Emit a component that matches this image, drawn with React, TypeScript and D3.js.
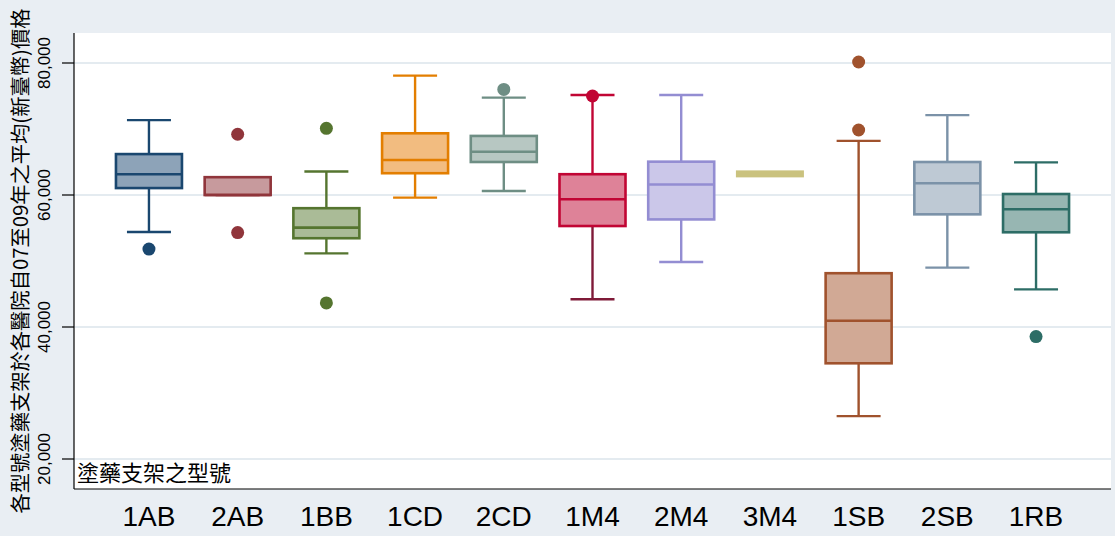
import React from 'react';
import * as d3 from 'd3';

// stent type -> price distribution (NTD)
const categories = ['1AB', '2AB', '1BB', '1CD', '2CD', '1M4', '2M4', '3M4', '1SB', '2SB', '1RB'];
const lowerWhisker = [54400, 60000, 51150, 59600, 60600, 44200, 49850, 63200, 26500, 49000, 45700];
const q1 = [61050, 60000, 53450, 63300, 65000, 55300, 56300, 63200, 34500, 57070, 54350];
const median = [63150, 60000, 55050, 65300, 66550, 59350, 61600, 63200, 40950, 61770, 57830];
const q3 = [66200, 62700, 58000, 69350, 68950, 63150, 65050, 63200, 48150, 65000, 60150];
const upperWhisker = [71350, 62700, 63550, 78080, 74750, 75150, 75150, 63200, 68200, 72100, 64950];
const outliers = [[51800], [69200, 54300], [70100, 43650], [], [76000], [75000], [], [], [80150, 69850], [], [38550]];

const strokes = ['#1a476f', '#90353b', '#55752f', '#e37e00', '#6e8e84', '#c10534', '#938dd2', '#cac27e', '#a0522d', '#7b92a8', '#2d6d66'];
const fills = ['#8da3b8', '#c79a9d', '#aabb97', '#f2bc80', '#b7c7c2', '#de8298', '#cbc7e9', '#cac27e', '#d1a995', '#bec9d4', '#97b6b2'];
const lowerStrokes = ['#1a476f', '#90353b', '#55752f', '#e37e00', '#6e8e84', '#7f1a38', '#938dd2', '#cac27e', '#a0522d', '#7b92a8', '#2d6d66'];

const yTicks = [20000, 40000, 60000, 80000];

const W = 1115;
const H = 536;
const plot = { left: 74, right: 1111, top: 33, bottom: 489 };
const bg = '#e9eef3';
const grid = '#e4ebf0';

export default function App() {
  const y = d3.scaleLinear().domain([15455, 84545]).range([plot.bottom, plot.top]);
  const x = d3.scalePoint<string>().domain(categories).range([plot.left, plot.right]).padding(0.845);
  const boxW = 66;
  const capW = 44;
  const fmt = d3.format(',');

  return (
    <svg width={W} height={H} style={{ position: 'absolute', left: 0, top: 0, display: 'block' }}>
      <rect width={W} height={H} fill={bg} />
      <rect x={plot.left} y={plot.top} width={plot.right - plot.left} height={plot.bottom - plot.top} fill="#fff" />

      {yTicks.map((t) => (
        <g key={t}>
          <line x1={plot.left} x2={plot.right} y1={y(t)} y2={y(t)} stroke={grid} strokeWidth={2} />
          <line x1={62} x2={plot.left} y1={y(t)} y2={y(t)} stroke="#000" strokeWidth={1.2} />
          <text
            transform={`translate(50,${y(t)}) rotate(-90)`}
            textAnchor="middle"
            fontFamily="'Liberation Sans', Arial, sans-serif"
            fontSize={17}
            fill="#000"
          >
            {fmt(t)}
          </text>
        </g>
      ))}

      {categories.map((c, i) => {
        const cx = x(c)!;
        const s = strokes[i];
        const flat = q1[i] === q3[i];
        return (
          <g key={c}>
            {!flat && (
              <>
                <line x1={cx} x2={cx} y1={y(q3[i])} y2={y(upperWhisker[i])} stroke={s} strokeWidth={2.4} />
                <line x1={cx - capW / 2} x2={cx + capW / 2} y1={y(upperWhisker[i])} y2={y(upperWhisker[i])} stroke={s} strokeWidth={2.4} />
                <line x1={cx} x2={cx} y1={y(q1[i])} y2={y(lowerWhisker[i])} stroke={lowerStrokes[i]} strokeWidth={2.4} />
                <line x1={cx - capW / 2} x2={cx + capW / 2} y1={y(lowerWhisker[i])} y2={y(lowerWhisker[i])} stroke={lowerStrokes[i]} strokeWidth={2.4} />
                <rect
                  x={cx - boxW / 2}
                  y={y(q3[i])}
                  width={boxW}
                  height={y(q1[i]) - y(q3[i])}
                  fill={fills[i]}
                  stroke={s}
                  strokeWidth={2.6}
                />
                <line x1={cx - boxW / 2} x2={cx + boxW / 2} y1={y(median[i])} y2={y(median[i])} stroke={s} strokeWidth={2.6} />
              </>
            )}
            {flat && (
              <rect x={cx - 34} y={y(median[i]) - 3.5} width={68} height={7} fill={fills[i]} />
            )}
            {outliers[i].map((o, j) => (
              <circle key={j} cx={cx} cy={y(o)} r={6.5} fill={s} />
            ))}
            <text
              x={cx}
              y={526}
              textAnchor="middle"
              fontFamily="'Liberation Sans', Arial, sans-serif"
              fontSize={28}
              fill="#000"
            >
              {c}
            </text>
          </g>
        );
      })}

      <line x1={plot.left} x2={plot.left} y1={plot.top} y2={plot.bottom} stroke="#000" strokeWidth={1.2} />
      <line x1={plot.left} x2={plot.right} y1={plot.bottom} y2={plot.bottom} stroke="#000" strokeWidth={1.2} />

      <text x={77} y={481} fontFamily="'Noto Sans CJK TC', sans-serif" fontSize={22} fill="#000">
        塗藥支架之型號
      </text>

      <text
        transform={`translate(28,${(plot.top + plot.bottom) / 2}) rotate(-90)`}
        textAnchor="middle"
        fontFamily="'Noto Sans CJK TC', sans-serif"
        fontSize={20}
        textLength={505}
        lengthAdjust="spacingAndGlyphs"
        fill="#000"
      >
        各型號塗藥支架於各醫院自07至09年之平均(新臺幣)價格
      </text>
    </svg>
  );
}
